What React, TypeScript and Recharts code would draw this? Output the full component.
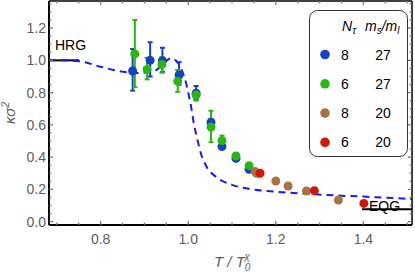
import React from 'react'
import {
  ComposedChart,
  Line,
  Scatter,
  ErrorBar,
  XAxis,
  YAxis,
  ReferenceLine,
} from 'recharts'

// dashed model curve
const curveT = [0.682, 0.7, 0.75, 0.8, 0.85, 0.88, 0.92, 0.94, 0.96, 0.975, 0.985, 0.992, 1.0, 1.008, 1.012, 1.02, 1.027, 1.042, 1.065, 1.1, 1.14, 1.18, 1.25, 1.33, 1.4, 1.511]
const curveK = [1.0, 1.0, 0.995, 0.96, 0.93, 0.922, 0.93, 0.97, 1.012, 0.99, 0.94, 0.89, 0.8, 0.69, 0.62, 0.52, 0.44, 0.34, 0.275, 0.228, 0.203, 0.19, 0.176, 0.163, 0.155, 0.14]

// lattice points: T, value, [err down, err up]
const n8m27T = [0.873, 0.913, 0.941, 0.979, 1.018, 1.052, 1.077, 1.109, 1.139]
const n8m27K = [0.934, 1.0, 0.998, 0.909, 0.796, 0.616, 0.465, 0.392, 0.324]
const n8m27E = [[0.122, 0.136], [0.1, 0.112], [0.07, 0.08], [0.06, 0.08], [0.04, 0.045], [0.02, 0.02], [0.015, 0.015], [0.01, 0.01], [0.01, 0.01]]

const n6m27T = [0.878, 0.906, 0.94, 0.976, 1.018, 1.052, 1.077, 1.109, 1.139]
const n6m27K = [1.04, 0.944, 0.975, 0.87, 0.785, 0.587, 0.502, 0.407, 0.347]
const n6m27E = [[0.207, 0.21], [0.062, 0.072], [0.052, 0.045], [0.065, 0.07], [0.035, 0.025], [0.095, 0.1], [0.017, 0.031], [0.01, 0.01], [0.01, 0.01]]

const n8m20T = [1.153, 1.156, 1.2, 1.228, 1.27, 1.343]
const n8m20K = [0.31, 0.3, 0.252, 0.221, 0.19, 0.134]

const n6m20T = [1.164, 1.288, 1.401]
const n6m20K = [0.3, 0.192, 0.113]

const legendRows = [
  { nt: '8', ratio: '27', color: '#1841c0' },
  { nt: '6', ratio: '27', color: '#2ab514' },
  { nt: '8', ratio: '20', color: '#a87341' },
  { nt: '6', ratio: '20', color: '#cc1a0a' },
]

const xTicks = [0.7, 0.75, 0.8, 0.85, 0.9, 0.95, 1.0, 1.05, 1.1, 1.15, 1.2, 1.25, 1.3, 1.35, 1.4, 1.45, 1.5]
const yTicks = [0, 0.05, 0.1, 0.15, 0.2, 0.25, 0.3, 0.35, 0.4, 0.45, 0.5, 0.55, 0.6, 0.65, 0.7, 0.75, 0.8, 0.85, 0.9, 0.95, 1.0, 1.05, 1.1, 1.15, 1.2, 1.25, 1.3, 1.35]

const curve = curveT.map((x, i) => ({ x, y: curveK[i] }))
const pts = (t: number[], k: number[], e?: number[][]) =>
  t.map((x, i) => ({ x, y: k[i], err: e ? e[i] : [0, 0] }))

const isMajor = (v: number) => Math.abs(v * 5 - Math.round(v * 5)) < 1e-6
const tickGrey = '#7a7a7a'
const labelGrey = '#5e5e5e'
const font = 'Liberation Sans, Arial, sans-serif'

const BottomTick = (props: any) => {
  const { x, y, payload } = props
  const major = isMajor(payload.value)
  return (
    <g>
      <line x1={x} x2={x} y1={y} y2={y - (major ? 4 : 2.5)} stroke={tickGrey} strokeWidth={1.3} />
      {major && (
        <text x={x} y={y + 19} textAnchor="middle" fontSize={14} fill={labelGrey} fontFamily={font}>
          {payload.value.toFixed(1)}
        </text>
      )}
    </g>
  )
}

const TopTick = (props: any) => {
  const { x, y, payload } = props
  const major = isMajor(payload.value)
  return <line x1={x} x2={x} y1={y} y2={y + (major ? 4 : 2.5)} stroke={tickGrey} strokeWidth={1.3} />
}

const LeftTick = (props: any) => {
  const { x, y, payload } = props
  const major = isMajor(payload.value)
  return (
    <g>
      <line x1={x} x2={x + (major ? 4 : 2.5)} y1={y} y2={y} stroke={tickGrey} strokeWidth={1.3} />
      {major && (
        <text x={x - 3} y={y + 5} textAnchor="end" fontSize={14} fill={labelGrey} fontFamily={font}>
          {payload.value.toFixed(1)}
        </text>
      )}
    </g>
  )
}

const RightTick = (props: any) => {
  const { x, y, payload } = props
  const major = isMajor(payload.value)
  return <line x1={x} x2={x - (major ? 4 : 2.5)} y1={y} y2={y} stroke={tickGrey} strokeWidth={1.3} />
}

const Dot = (color: string) => (props: any) => {
  const { cx, cy } = props
  return <circle cx={cx} cy={cy} r={4.5} fill={color} />
}

const LegendBox = () => (
  <svg width={100} height={148} style={{ display: 'block' }}>
    <rect x={0.5} y={0.5} width={98} height={146} rx={8} fill="#fff" stroke="#333" strokeWidth={1} />
    <text x={33} y={21} fontSize={14} fontFamily={font} fontStyle="italic" fill="#000">
      N<tspan fontSize={10} dy={3}>τ</tspan>
    </text>
    <text x={56} y={21} fontSize={14} fontFamily={font} fontStyle="italic" fill="#000">
      m<tspan fontSize={10} dy={3}>s</tspan>
      <tspan dy={-3}>/m</tspan>
      <tspan fontSize={10} dy={3}>l</tspan>
    </text>
    {legendRows.map((r, i) => (
      <g key={i}>
        <circle cx={16} cy={44.5 + i * 29.3} r={4.8} fill={r.color} />
        <text x={36} y={49.5 + i * 29.3} textAnchor="middle" fontSize={14} fontFamily={font} fill="#000">
          {r.nt}
        </text>
        <text x={74} y={49.5 + i * 29.3} textAnchor="middle" fontSize={14} fontFamily={font} fill="#000">
          {r.ratio}
        </text>
      </g>
    ))}
  </svg>
)

const App = () => {
  const xDomain = [0.682, 1.511]
  const yDomain = [-0.021, 1.368]
  return (
    <div style={{ position: 'absolute', left: 0, top: 0, width: 415, height: 275, background: '#fff' }}>
      <ComposedChart width={415} height={275} margin={{ top: 0, right: 0, bottom: 0, left: 0 }}>
        <XAxis
          xAxisId="b"
          type="number"
          dataKey="x"
          domain={xDomain}
          ticks={xTicks}
          interval={0}
          allowDataOverflow
          height={50}
          tickSize={0}
          tickMargin={0}
          tick={BottomTick}
          axisLine={{ stroke: '#000', strokeWidth: 2 }}
          label={{
            content: () => (
              <text x={214} y={267} fontSize={15} fontFamily={font} fontStyle="italic" fill={labelGrey}>
                T / T<tspan fontSize={10} dy={4}>0</tspan>
                <tspan fontSize={10} dx={-6} dy={-11}>χ</tspan>
              </text>
            ),
          }}
        />
        <XAxis
          xAxisId="t"
          orientation="top"
          type="number"
          dataKey="x"
          domain={xDomain}
          ticks={xTicks}
          interval={0}
          allowDataOverflow
          height={1}
          tickSize={0}
          tickMargin={0}
          tick={TopTick}
          axisLine={{ stroke: '#000', strokeWidth: 1.5 }}
        />
        <YAxis
          yAxisId="l"
          type="number"
          domain={yDomain}
          ticks={yTicks}
          interval={0}
          allowDataOverflow
          width={49}
          tickSize={0}
          tickMargin={0}
          tick={LeftTick}
          axisLine={{ stroke: '#000', strokeWidth: 2 }}
          label={{
            content: () => (
              <text
                x={15}
                y={113}
                transform="rotate(-90 15 113)"
                textAnchor="middle"
                fontSize={15}
                fontFamily={font}
                fontStyle="italic"
                fill={labelGrey}
              >
                κσ<tspan fontSize={10} dy={-6}>2</tspan>
              </text>
            ),
          }}
        />
        <YAxis
          yAxisId="r"
          orientation="right"
          type="number"
          domain={yDomain}
          ticks={yTicks}
          interval={0}
          allowDataOverflow
          width={3}
          tickSize={0}
          tickMargin={0}
          tick={RightTick}
          axisLine={{ stroke: '#000', strokeWidth: 1.5 }}
        />
        <ReferenceLine
          xAxisId="b"
          yAxisId="l"
          segment={[{ x: 0.682, y: 1.0 }, { x: 0.751, y: 1.0 }]}
          stroke="#000"
          strokeWidth={2}
          label={{
            content: () => (
              <text x={55} y={50} fontSize={14} fontFamily={font} fill="#000">
                HRG
              </text>
            ),
          }}
        />
        <ReferenceLine
          xAxisId="b"
          yAxisId="l"
          segment={[{ x: 1.397, y: 0.076 }, { x: 1.511, y: 0.076 }]}
          stroke="#000"
          strokeWidth={2}
          label={{
            content: () => (
              <text x={369} y={211} fontSize={14} fontFamily={font} fill="#000">
                EQG
              </text>
            ),
          }}
        />
        <Line
          xAxisId="b"
          yAxisId="l"
          data={curve}
          dataKey="y"
          type="monotone"
          stroke="#1a1aee"
          strokeWidth={2}
          strokeDasharray="7 5"
          dot={false}
          isAnimationActive={false}
        />
        <Scatter xAxisId="b" yAxisId="l" data={pts(n8m27T, n8m27K, n8m27E)} dataKey="y" shape={Dot('#1841c0')} isAnimationActive={false}>
          <ErrorBar dataKey="err" direction="y" width={2.5} stroke="#1841c0" strokeWidth={2} isAnimationActive={false} />
        </Scatter>
        <Scatter xAxisId="b" yAxisId="l" data={pts(n6m27T, n6m27K, n6m27E)} dataKey="y" shape={Dot('#2ab514')} isAnimationActive={false}>
          <ErrorBar dataKey="err" direction="y" width={2.5} stroke="#2ab514" strokeWidth={2} isAnimationActive={false} />
        </Scatter>
        <Scatter xAxisId="b" yAxisId="l" data={pts(n8m20T, n8m20K)} dataKey="y" shape={Dot('#a87341')} isAnimationActive={false} />
        <Scatter xAxisId="b" yAxisId="l" data={pts(n6m20T, n6m20K)} dataKey="y" shape={Dot('#cc1a0a')} isAnimationActive={false} />
      </ComposedChart>
      <div style={{ position: 'absolute', left: 309, top: 10 }}>
        <LegendBox />
      </div>
    </div>
  )
}

export default App
